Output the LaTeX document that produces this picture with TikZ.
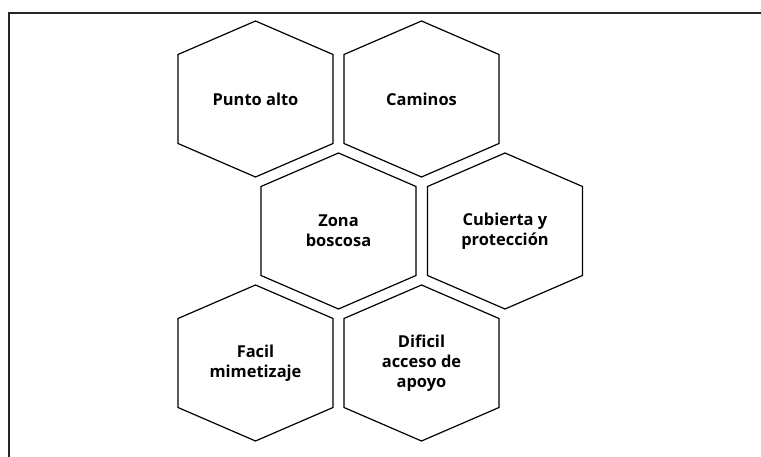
\documentclass[tikz,border=0pt]{standalone}
\usepackage{fontspec}
\setmainfont{Open Sans}
\tikzset{
  hexline/.style={line width=1.2bp, line join=miter},
  hextext/.style={align=center, font=\fontsize{16.5}{20}\selectfont\bfseries, inner sep=0pt},
  frameline/.style={line width=1.6bp, black!85}
}
\begin{document}
\begin{tikzpicture}[x=1bp,y=-1bp]
\useasboundingbox (0,0) rectangle (761,457);

% Frame (top and left side only)
\coordinate (frametl) at (9,13);
\coordinate (frametr) at (761,13);
\coordinate (framebl) at (9,457);
\draw [frameline] (framebl) -- (frametl) -- (frametr);

% Hexagon Punto alto
\node [hextext] (puntoalto) at (255.5,99) {Punto alto};
\draw [hexline, shift={(puntoalto.center)}] (0,-78) -- (77.5,-44.5) -- (77.5,44.5) -- (0,78) -- (-77.5,44.5) -- (-77.5,-44.5) -- cycle;

% Hexagon Caminos
\node [hextext] (caminos) at (421.5,99) {Caminos};
\draw [hexline, shift={(caminos.center)}] (0,-78) -- (77.5,-44.5) -- (77.5,44.5) -- (0,78) -- (-77.5,44.5) -- (-77.5,-44.5) -- cycle;

% Hexagon Zona boscosa
\node [hextext] (zona) at (338.5,231) {Zona\\boscosa};
\draw [hexline, shift={(zona.center)}] (0,-78) -- (77.5,-44.5) -- (77.5,44.5) -- (0,78) -- (-77.5,44.5) -- (-77.5,-44.5) -- cycle;

% Hexagon Cubierta y protección
\node [hextext] (cubierta) at (505,231) {Cubierta y\\protección};
\draw [hexline, shift={(cubierta.center)}] (0,-78) -- (77.5,-44.5) -- (77.5,44.5) -- (0,78) -- (-77.5,44.5) -- (-77.5,-44.5) -- cycle;

% Hexagon Facil mimetizaje
\node [hextext] (facil) at (255.5,363) {Facil\\mimetizaje};
\draw [hexline, shift={(facil.center)}] (0,-78) -- (77.5,-44.5) -- (77.5,44.5) -- (0,78) -- (-77.5,44.5) -- (-77.5,-44.5) -- cycle;

% Hexagon Dificil acceso de apoyo
\node [hextext] (dificil) at (421.5,363) {Dificil\\acceso de\\apoyo};
\draw [hexline, shift={(dificil.center)}] (0,-78) -- (77.5,-44.5) -- (77.5,44.5) -- (0,78) -- (-77.5,44.5) -- (-77.5,-44.5) -- cycle;
\end{tikzpicture}
\end{document}
